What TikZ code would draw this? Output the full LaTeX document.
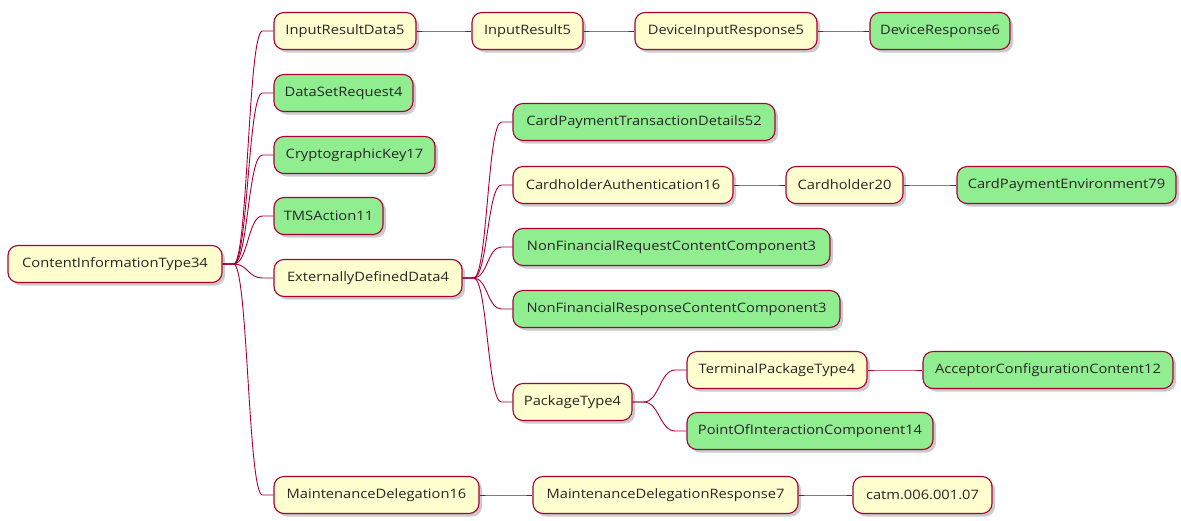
\documentclass[tikz,border=0pt]{standalone}
\usepackage{fontspec}
\setmainfont{Open Sans}[FakeStretch=1.13]
\usetikzlibrary{shadows,calc}
\definecolor{nodefill}{HTML}{FEFECE}
\definecolor{leaffill}{HTML}{90EE90}
\definecolor{edgecol}{HTML}{A80036}
\tikzset{
  box/.style={draw=edgecol, line width=1.1pt, rounded corners=10pt, fill=nodefill,
    minimum height=37pt, inner sep=0pt, text=black!85,
    font=\fontsize{13}{15}\selectfont,
    drop shadow={shadow xshift=3pt, shadow yshift=-3pt, fill=black!45, opacity=0.45}},
  leaf/.style={box, fill=leaffill},
  link/.style={draw=edgecol, line width=0.9pt}
}
\newcommand{\conn}[2]{%
  \draw[link] let \p1=(#1.east), \p2=(#2.west), \n1={(\x1+\x2)/2} in
    (\p1) -- (\x1+11pt,\y1) .. controls (\n1,\y1) and (\n1,\y2) .. (\x2-11pt,\y2) -- (\p2);}
\begin{document}
\begin{tikzpicture}[x=1pt,y=-1pt]
\useasboundingbox[fill=white] (0,0) rectangle (1181,520);
% nodes
\node[box, minimum width=214pt] (root) at (115,264) {ContentInformationType34};
\node[box, minimum width=142pt] (ird) at (345,31) {InputResultData5};
\node[box, minimum width=111pt] (ir) at (527.5,31) {InputResult5};
\node[box, minimum width=182pt] (dir) at (726,31) {DeviceInputResponse5};
\node[leaf, minimum width=140pt] (dr) at (940,31) {DeviceResponse6};
\node[leaf, minimum width=139pt] (dsr) at (343.5,93) {DataSetRequest4};
\node[leaf, minimum width=161pt] (ck) at (354.5,155) {CryptographicKey17};
\node[leaf, minimum width=109pt] (tms) at (328.5,216) {TMSAction11};
\node[box, minimum width=188pt] (edd) at (368,278) {ExternallyDefinedData4};
\node[leaf, minimum width=262pt] (cptd) at (644,122) {CardPaymentTransactionDetails52};
\node[box, minimum width=220pt] (ca) at (623,185) {CardholderAuthentication16};
\node[box, minimum width=117pt] (ch) at (844.5,185) {Cardholder20};
\node[leaf, minimum width=219pt] (cpe) at (1066.5,185) {CardPaymentEnvironment79};
\node[leaf, minimum width=317pt] (nfreq) at (671.5,247) {NonFinancialRequestContentComponent3};
\node[leaf, minimum width=327pt] (nfresp) at (676.5,309) {NonFinancialResponseContentComponent3};
\node[box, minimum width=119pt] (pt) at (572.5,402) {PackageType4};
\node[box, minimum width=180pt] (tpt) at (777,370) {TerminalPackageType4};
\node[leaf, minimum width=250pt] (acc) at (1048,370) {AcceptorConfigurationContent12};
\node[leaf, minimum width=246pt] (poi) at (810,431) {PointOfInteractionComponent14};
\node[box, minimum width=205pt] (md) at (376.5,495) {MaintenanceDelegation16};
\node[box, minimum width=265pt] (mdr) at (665.5,495) {MaintenanceDelegationResponse7};
\node[box, minimum width=139pt] (catm) at (922.5,495) {catm.006.001.07};
% connectors
\conn{root}{ird}
\conn{root}{dsr}
\conn{root}{ck}
\conn{root}{tms}
\conn{root}{edd}
\conn{root}{md}
\conn{ird}{ir}
\conn{ir}{dir}
\conn{dir}{dr}
\conn{edd}{cptd}
\conn{edd}{ca}
\conn{edd}{nfreq}
\conn{edd}{nfresp}
\conn{edd}{pt}
\conn{ca}{ch}
\conn{ch}{cpe}
\conn{pt}{tpt}
\conn{pt}{poi}
\conn{tpt}{acc}
\conn{md}{mdr}
\conn{mdr}{catm}
\end{tikzpicture}
\end{document}
